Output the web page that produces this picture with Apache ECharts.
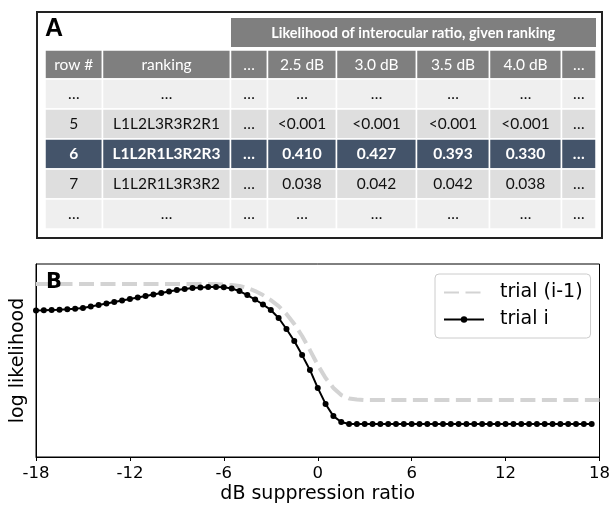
<!DOCTYPE html>
<html>
<head>
<meta charset="utf-8">
<script src="https://cdn.jsdelivr.net/npm/echarts@6/dist/echarts.min.js"></script>
<style>html,body{margin:0;padding:0;background:#fff}#c{width:613px;height:505px}</style>
</head>
<body>
<div id="c"></div>
<script>
// ---------- Panel A data (table) ----------
const tableTitle = 'Likelihood of interocular ratio, given ranking';
const columnHeaders = ['row #', 'ranking', '…', '2.5 dB', '3.0 dB', '3.5 dB', '4.0 dB', '…'];
const rowNumbers = ['…', '5', '6', '7', '…'];
const rankings = ['…', 'L1L2L3R3R2R1', 'L1L2R1L3R2R3', 'L1L2R1L3R3R2', '…'];
const skipCol = ['…', '…', '…', '…', '…'];
const lik25 = ['…', '<0.001', '0.410', '0.038', '…'];
const lik30 = ['…', '<0.001', '0.427', '0.042', '…'];
const lik35 = ['…', '<0.001', '0.393', '0.042', '…'];
const lik40 = ['…', '<0.001', '0.330', '0.038', '…'];
const highlightRow = 2;

// ---------- Panel B data (curves) ----------
const dbRatio = [-18,-17.5,-17,-16.5,-16,-15.5,-15,-14.5,-14,-13.5,-13,-12.5,-12,-11.5,-11,-10.5,-10,-9.5,-9,-8.5,-8,-7.5,-7,-6.5,-6,-5.5,-5,-4.5,-4,-3.5,-3,-2.5,-2,-1.5,-1,-0.5,0,0.5,1,1.5,2,2.5,3,3.5,4,4.5,5,5.5,6,6.5,7,7.5,8,8.5,9,9.5,10,10.5,11,11.5,12,12.5,13,13.5,14,14.5,15,15.5,16,16.5,17,17.5,18];
const trialPrev = [8.96,8.96,8.96,8.96,8.96,8.96,8.96,8.96,8.96,8.96,8.96,8.96,8.96,8.96,8.96,8.96,8.96,8.96,8.96,8.96,8.96,8.96,8.96,8.96,
  8.94,8.91,8.86,8.76,8.60,8.39,8.13,7.82,7.41,6.89,6.27,5.54,4.77,4.09,3.58,3.21,3.03,2.98,
  2.95,2.95,2.95,2.95,2.95,2.95,2.95,2.95,2.95,2.95,2.95,2.95,2.95,2.95,2.95,2.95,2.95,2.95,2.95,2.95,2.95,2.95,2.95,2.95,2.95,2.95,2.95,2.95,2.95,2.95,2.95];
const trialCur = [7.59,7.60,7.62,7.63,7.65,7.68,7.72,7.80,7.88,7.95,8.03,8.11,8.19,8.26,8.34,8.42,8.50,8.58,8.65,8.70,8.76,8.78,8.81,8.81,8.79,8.73,8.60,8.39,8.16,7.90,7.62,7.20,6.63,6.01,5.28,4.51,3.58,2.75,2.12,1.81,1.71,
  1.71,1.71,1.71,1.71,1.71,1.71,1.71,1.71,1.71,1.71,1.71,1.71,1.71,1.71,1.71,1.71,1.71,1.71,1.71,1.71,1.71,1.71,1.71,1.71,1.71,1.71,1.71,1.71,1.71,1.71,1.71];
const xTicks = {min: -18, max: 18, step: 6};

// ---------- Layout (table geometry) ----------
const colEdges = [45, 102.5, 230.5, 267.5, 336.5, 416.5, 489.5, 561.5, 596];
const rowEdges = [50, 79, 109, 139, 169, 199, 229];
const tableFont = 'Lato, "Open Sans", sans-serif';

const columnsData = [rowNumbers, rankings, skipCol, lik25, lik30, lik35, lik40, skipCol];
const graphics = [];
// panel A frame
graphics.push({type: 'rect', shape: {x: 37, y: 12, width: 565, height: 226},
  style: {fill: 'none', stroke: '#222', lineWidth: 2}, z: 10});
graphics.push({type: 'text', x: 45, y: 29, style: {text: 'A', font: 'bold 25px "Liberation Sans", Arial, sans-serif', fill: '#000', verticalAlign: 'middle'}});
// title band
graphics.push({type: 'rect', shape: {x: colEdges[2] + 0.5, y: 18, width: colEdges[8] - colEdges[2] - 0.5, height: 29},
  style: {fill: '#7f7f7f'}});
graphics.push({type: 'text', x: (colEdges[2] + colEdges[8]) / 2, y: 33,
  style: {text: tableTitle, font: 'bold 14.5px ' + tableFont, fill: '#fff', align: 'center', verticalAlign: 'middle'}});
// header row
for (let c = 0; c < columnHeaders.length; c++) {
  const x0 = colEdges[c], x1 = colEdges[c + 1];
  graphics.push({type: 'rect', shape: {x: x0, y: rowEdges[0], width: x1 - x0, height: rowEdges[1] - rowEdges[0]},
    style: {fill: '#7f7f7f', stroke: '#fff', lineWidth: 1.5}});
  graphics.push({type: 'text', x: (x0 + x1) / 2, y: (rowEdges[0] + rowEdges[1]) / 2,
    style: {text: columnHeaders[c], font: '15.5px ' + tableFont, fill: '#fff', align: 'center', verticalAlign: 'middle'}});
}
// body rows
for (let r = 0; r < rowNumbers.length; r++) {
  const y0 = rowEdges[r + 1], y1 = rowEdges[r + 2];
  const isHi = r === highlightRow;
  const isDots = rowNumbers[r] === '…';
  const fill = isHi ? '#44546a' : (isDots ? '#efefef' : '#dedede');
  for (let c = 0; c < columnsData.length; c++) {
    const x0 = colEdges[c], x1 = colEdges[c + 1];
    graphics.push({type: 'rect', shape: {x: x0, y: y0, width: x1 - x0, height: y1 - y0},
      style: {fill: fill, stroke: '#fff', lineWidth: 1.5}});
    graphics.push({type: 'text', x: (x0 + x1) / 2, y: (y0 + y1) / 2,
      style: {text: columnsData[c][r], font: (isHi ? 'bold ' : '') + '15.5px ' + tableFont,
        fill: isHi ? '#fff' : '#111', align: 'center', verticalAlign: 'middle'}});
  }
}
// panel B label
graphics.push({type: 'text', x: 46, y: 283, z: 20, style: {text: 'B', font: 'bold 21px "DejaVu Sans", sans-serif', fill: '#000', verticalAlign: 'middle'}});

const chart = echarts.init(document.getElementById('c'), null, {renderer: 'canvas'});
const dv = '"DejaVu Sans", sans-serif';
chart.setOption({
  animation: false,
  backgroundColor: '#fff',
  graphic: graphics,
  grid: {left: 36, right: 10, top: 264, bottom: 48, show: true, borderColor: '#000', borderWidth: 1, backgroundColor: 'transparent'},
  legend: {
    orient: 'vertical', left: 435, top: 274,
    padding: [9, 8, 9, 8], itemGap: 8, itemWidth: 40, itemHeight: 8,
    backgroundColor: 'rgba(255,255,255,0.8)', borderColor: '#cccccc', borderWidth: 1, borderRadius: 4,
    textStyle: {fontSize: 19, fontFamily: dv, color: '#000', padding: [0, 0, 0, 11]},
    data: [{name: 'trial (i-1)', itemStyle: {opacity: 0}}, {name: 'trial i'}]
  },
  xAxis: {
    type: 'value', min: xTicks.min, max: xTicks.max, interval: xTicks.step,
    axisLine: {show: true, onZero: false, lineStyle: {color: '#000', width: 1}},
    axisTick: {show: true, length: 4, lineStyle: {color: '#000'}},
    axisLabel: {fontSize: 16.5, fontFamily: dv, color: '#000', margin: 8},
    splitLine: {show: false},
    name: 'dB suppression ratio', nameLocation: 'middle', nameGap: 28,
    nameTextStyle: {fontSize: 19, fontFamily: dv, color: '#000'}
  },
  yAxis: {
    type: 'value', min: 0, max: 10,
    axisLine: {show: true, onZero: false, lineStyle: {color: '#000', width: 1}},
    axisTick: {show: false}, axisLabel: {show: false}, splitLine: {show: false},
    name: 'log likelihood', nameLocation: 'middle', nameGap: 8,
    nameTextStyle: {fontSize: 19, fontFamily: dv, color: '#000'}
  },
  series: [
    {
      name: 'trial (i-1)', type: 'line', showSymbol: false, symbol: 'none',
      data: dbRatio.map((x, i) => [x, trialPrev[i]]),
      lineStyle: {color: '#d3d3d3', width: 4, type: [15, 6.5], cap: 'butt'},
      itemStyle: {color: '#d3d3d3'}, z: 2
    },
    {
      name: 'trial i', type: 'line', symbol: 'circle', symbolSize: 6, showSymbol: true,
      data: dbRatio.map((x, i) => [x, trialCur[i]]),
      lineStyle: {color: '#000', width: 2}, itemStyle: {color: '#000'}, z: 3
    }
  ]
});
</script>
</body>
</html>
